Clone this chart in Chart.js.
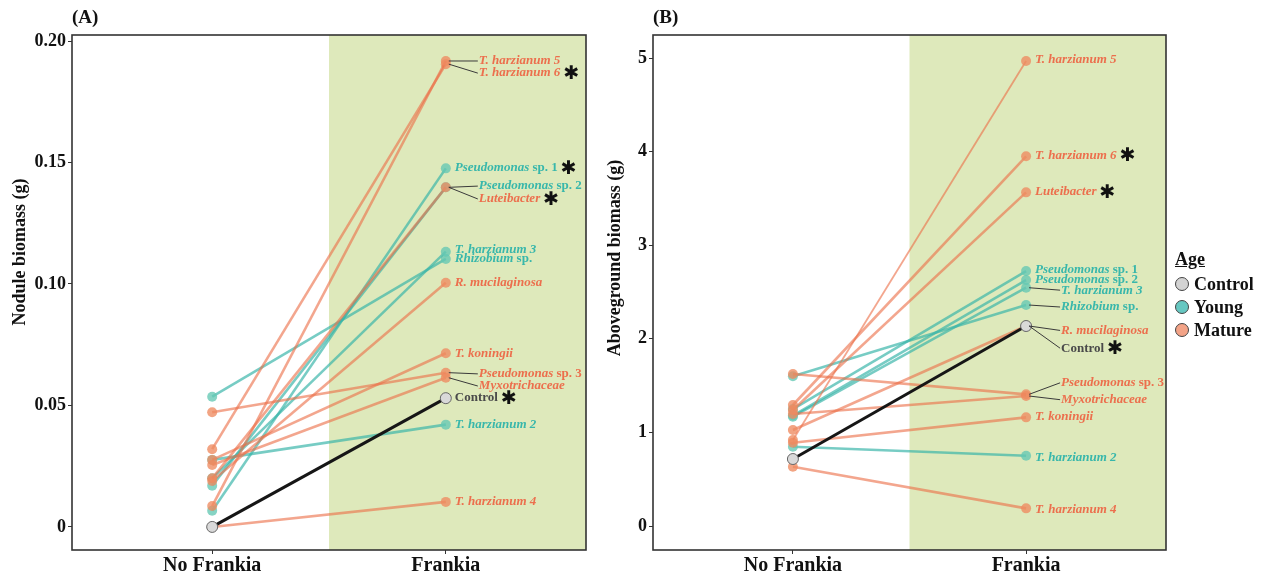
<!DOCTYPE html>
<html>
<head>
<meta charset="utf-8">
<script src="https://cdn.jsdelivr.net/npm/chart.js@4.4.1/dist/chart.umd.min.js"></script>
<style>
  body { margin: 0; background: #fff; }
  #wrap { position: relative; width: 1269px; height: 573px; }
  canvas { position: absolute; top: 0; }
  #legend { position: absolute; left: 1175px; top: 249px; font: bold 18px "Liberation Serif", serif; color: #111; }
  #legend .ttl { text-decoration: underline; margin-bottom: 3px; }
  #legend .row { height: 23px; line-height: 23px; white-space: nowrap; }
  #legend .dot { display: inline-block; width: 12px; height: 12px; border-radius: 50%; border: 1px solid #444; margin-right: 5px; vertical-align: -1px; }
</style>
</head>
<body>
<div id="wrap">
  <canvas id="chartA" width="605" height="573" style="left:0"></canvas>
  <canvas id="chartB" width="580" height="573" style="left:600px"></canvas>
  <div id="legend">
    <div class="ttl">Age</div>
    <div class="row"><span class="dot" style="background:#d3d3d3"></span>Control</div>
    <div class="row"><span class="dot" style="background:#66c7c1"></span>Young</div>
    <div class="row"><span class="dot" style="background:#f3a387"></span>Mature</div>
  </div>
</div>
<script>
// strains and their age group
var strains = ["T. harzianum 5", "T. harzianum 6", "Luteibacter", "R. mucilaginosa", "T. koningii",
  "Pseudomonas sp. 3", "Myxotrichaceae", "T. harzianum 4", "Pseudomonas sp. 1", "Pseudomonas sp. 2",
  "T. harzianum 3", "Rhizobium sp.", "T. harzianum 2", "Control"];
var ages = ["Mature", "Mature", "Mature", "Mature", "Mature", "Mature", "Mature", "Mature",
  "Young", "Young", "Young", "Young", "Young", "Control"];
var treatments = ["No Frankia", "Frankia"];

// (A) nodule biomass, g
var noduleNoFrankia = [0.0086, 0.032, 0.020, 0.0189, 0.0276, 0.0472, 0.0255, 0, 0.0067, 0.017, 0.020, 0.0536, 0.0276, 0];
var noduleFrankia   = [0.1918, 0.1905, 0.1398, 0.1005, 0.0715, 0.0635, 0.0614, 0.0103, 0.1476, 0.1398, 0.1133, 0.1103, 0.0421, 0.053];
// (B) aboveground biomass, g
var aboveNoFrankia = [0.919, 1.293, 1.239, 1.026, 0.89, 1.625, 1.197, 0.634, 1.25, 1.18, 1.168, 1.60, 0.847, 0.716];
var aboveFrankia   = [4.968, 3.95, 3.565, 2.137, 1.161, 1.407, 1.389, 0.189, 2.724, 2.628, 2.546, 2.361, 0.751, 2.137];

var noduleTicks = [0, 0.05, 0.10, 0.15, 0.20];
var noduleTickLabels = ["0", "0.05", "0.10", "0.15", "0.20"];
var aboveTicks = [0, 1, 2, 3, 4, 5];
var aboveTickLabels = ["0", "1", "2", "3", "4", "5"];

// significant vs control
var noduleStar = [0, 1, 1, 0, 0, 0, 0, 0, 1, 0, 0, 0, 0, 1];
var aboveStar  = [0, 1, 1, 0, 0, 0, 0, 0, 0, 0, 0, 0, 0, 1];

// where the repelled labels sit (y in data units) and if they need a leader line
var noduleLabelY = [0.1918, 0.1868, 0.135, 0.1004, 0.0712, 0.063, 0.058, 0.0103, 0.1477, 0.1403, 0.114, 0.1103, 0.042, 0.0531];
var noduleLeader = [1, 1, 1, 0, 0, 1, 1, 0, 0, 1, 0, 0, 0, 0];
var aboveLabelY = [4.98, 3.96, 3.57, 2.09, 1.165, 1.53, 1.35, 0.17, 2.735, 2.63, 2.52, 2.34, 0.727, 1.90];
var aboveLeader = [0, 0, 0, 1, 0, 1, 1, 0, 0, 0, 1, 1, 0, 1];

var lineCol = { Mature: "rgba(236,112,72,0.62)", Young: "rgba(55,180,168,0.68)", Control: "#161616" };
var pointCol = { Mature: "rgba(238,138,96,0.78)", Young: "rgba(100,200,180,0.78)", Control: "#d9d9d9" };
var textCol = { Mature: "#ec6f4d", Young: "#38b7ab", Control: "#4a4a4a" };

var SERIF = '"Liberation Serif", "Times New Roman", serif';

function labelParts(name) {
  if (name === "Control") return [{ t: name, it: false }];
  var m = name.match(/^(.*?)( sp\..*)$/);
  if (m) return [{ t: m[1], it: true }, { t: m[2], it: false }];
  return [{ t: name, it: true }];
}

function makeDatasets(noF, F) {
  var ds = [];
  for (var i = 0; i < strains.length; i++) {
    var a = ages[i];
    ds.push({
      label: strains[i],
      data: [{ x: 1, y: noF[i] }, { x: 2, y: F[i] }],
      borderColor: lineCol[a],
      borderWidth: a === "Control" ? 3 : (i === 0 && noF === aboveNoFrankia ? 1.8 : 2.6),
      backgroundColor: pointCol[a],
      pointBackgroundColor: pointCol[a],
      pointBorderColor: a === "Control" ? "#666" : "rgba(0,0,0,0)",
      pointBorderWidth: a === "Control" ? 1 : 0,
      pointRadius: a === "Control" ? 5.5 : 5,
      tension: 0,
      order: a === "Control" ? 0 : 1
    });
  }
  return ds;
}

function panelPlugin(cfg) {
  return {
    id: "panel",
    beforeDatasetsDraw: function (chart) {
      var ctx = chart.ctx, ca = chart.chartArea, xs = chart.scales.x;
      var x0 = xs.getPixelForValue(1.5);
      ctx.save();
      ctx.fillStyle = "#dee9bb";
      ctx.fillRect(x0, ca.top, ca.right - x0, ca.bottom - ca.top);
      ctx.restore();
    },
    afterDatasetsDraw: function (chart) {
      var ctx = chart.ctx, ca = chart.chartArea, xs = chart.scales.x, ys = chart.scales.y;
      ctx.save();
      // labels at the Frankia end
      for (var i = 0; i < strains.length; i++) {
        var px = xs.getPixelForValue(2), py = ys.getPixelForValue(cfg.fr[i]);
        var ty = ys.getPixelForValue(cfg.labelY[i]);
        var tx = px + (cfg.leader[i] ? cfg.leadGap : 9);
        if (cfg.leader[i]) {
          ctx.strokeStyle = "#3a3a3a";
          ctx.lineWidth = 1;
          ctx.beginPath();
          ctx.moveTo(px + 3, py);
          ctx.lineTo(tx - 1, ty);
          ctx.stroke();
        }
        ctx.textBaseline = "middle";
        ctx.textAlign = "left";
        ctx.fillStyle = textCol[ages[i]];
        var parts = labelParts(strains[i]);
        var cx = tx;
        for (var k = 0; k < parts.length; k++) {
          ctx.font = (parts[k].it ? "italic " : "") + "bold 13px " + SERIF;
          ctx.fillText(parts[k].t, cx, ty);
          cx += ctx.measureText(parts[k].t).width;
        }
        if (cfg.star[i]) {
          ctx.fillStyle = "#111";
          ctx.font = "bold 19px 'DejaVu Sans'";
          ctx.textAlign = "center";
          ctx.fillText("\u2731", cx + 11, ty + 1);
        }
      }
      // panel border
      ctx.strokeStyle = "#333";
      ctx.lineWidth = 1.6;
      ctx.strokeRect(ca.left, ca.top, ca.right - ca.left, ca.bottom - ca.top);
      // axis title
      ctx.fillStyle = "#111";
      ctx.font = "bold 18px " + SERIF;
      ctx.textAlign = "center";
      ctx.textBaseline = "middle";
      ctx.translate(cfg.titleX, cfg.titleY);
      ctx.rotate(-Math.PI / 2);
      ctx.fillText(cfg.title, 0, 0);
      ctx.restore();
      // panel tag
      ctx.save();
      ctx.fillStyle = "#111";
      ctx.font = "bold 19px " + SERIF;
      ctx.textBaseline = "middle";
      ctx.fillText(cfg.tag, ca.left, 18);
      ctx.restore();
    }
  };
}

function makeChart(id, noF, F, ticks, tickLabels, yMin, yMax, yWidth, padRight, cfg) {
  return new Chart(document.getElementById(id), {
    type: "line",
    data: { datasets: makeDatasets(noF, F) },
    plugins: [panelPlugin(cfg)],
    options: {
      responsive: false,
      animation: false,
      devicePixelRatio: 1,
      layout: { padding: { left: 0, top: 35, right: padRight, bottom: 0 } },
      plugins: { legend: { display: false }, tooltip: { enabled: false } },
      scales: {
        x: {
          type: "linear", min: 0.4, max: 2.6,
          afterBuildTicks: function (s) { s.ticks = [{ value: 1 }, { value: 2 }]; },
          afterFit: function (s) { s.height = 23; },
          ticks: {
            color: "#111", padding: 0, maxRotation: 0, autoSkip: false,
            font: { family: SERIF, size: 20, weight: "bold" },
            callback: function (v) { return treatments[v - 1]; }
          },
          grid: { drawOnChartArea: false, tickLength: 4, color: "#333" },
          border: { display: false }
        },
        y: {
          type: "linear", min: yMin, max: yMax,
          afterBuildTicks: function (s) { s.ticks = ticks.map(function (v) { return { value: v }; }); },
          afterFit: function (s) { s.width = yWidth; },
          ticks: {
            color: "#111", padding: 2, autoSkip: false,
            font: { family: SERIF, size: 18, weight: "bold" },
            callback: function (v) { var j = ticks.indexOf(v); return j >= 0 ? tickLabels[j] : ""; }
          },
          grid: { drawOnChartArea: false, tickLength: 4, color: "#333" },
          border: { display: false }
        }
      }
    }
  });
}

makeChart("chartA", noduleNoFrankia, noduleFrankia, noduleTicks, noduleTickLabels, -0.0095, 0.2025, 72, 19, {
  fr: noduleFrankia, labelY: noduleLabelY, leader: noduleLeader, star: noduleStar, leadGap: 33,
  title: "Nodule biomass (g)", titleX: 20, titleY: 252, tag: "(A)"
});
makeChart("chartB", aboveNoFrankia, aboveFrankia, aboveTicks, aboveTickLabels, -0.256, 5.246, 53, 14, {
  fr: aboveFrankia, labelY: aboveLabelY, leader: aboveLeader, star: aboveStar, leadGap: 35,
  title: "Aboveground biomass (g)", titleX: 15, titleY: 258, tag: "(B)"
});
</script>
</body>
</html>
